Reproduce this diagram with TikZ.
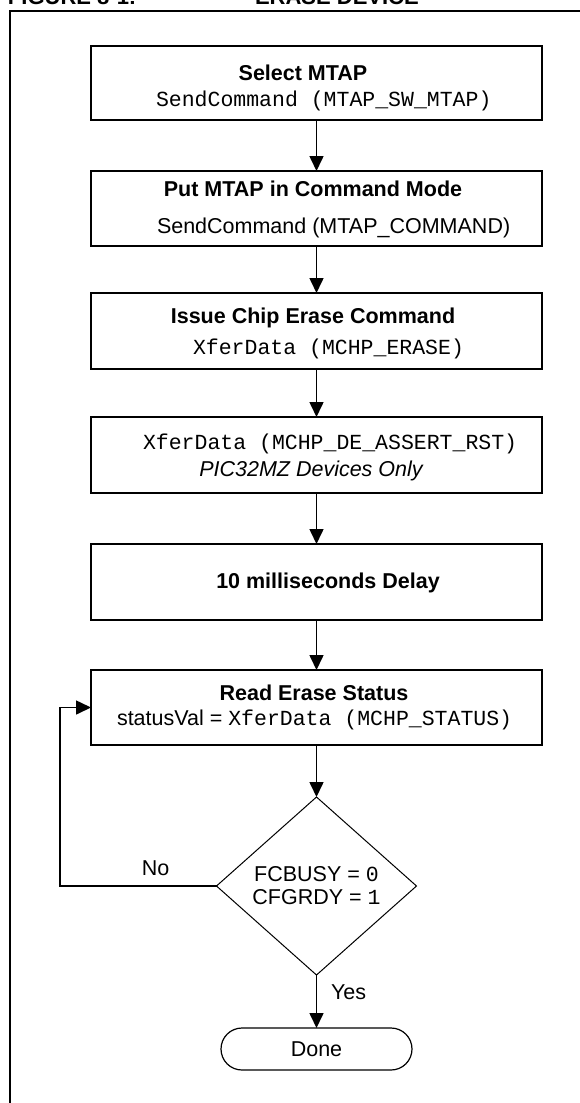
\documentclass[tikz,border=0pt]{standalone}
\usepackage{fontspec}
\setmainfont{Liberation Sans}
\setmonofont{Liberation Mono}
\usetikzlibrary{arrows.meta,shapes.geometric}
\begin{document}
\begin{tikzpicture}[x=1pt,y=-1pt,
  every node/.style={inner sep=0pt,outer sep=0pt},
  box/.style={draw,line width=1.8pt,minimum width=451pt},
  txt/.style={font=\fontsize{21.5}{23}\selectfont,anchor=base},
  btxt/.style={font=\fontsize{21.5}{23}\selectfont\bfseries,anchor=base},
  itxt/.style={font=\fontsize{21.5}{23}\selectfont\itshape,anchor=base},
  ttl/.style={font=\fontsize{22}{24}\selectfont\bfseries,anchor=base west},
  arr/.style={line width=1.6pt,-{Triangle[length=15pt,width=14pt]}},
]
\useasboundingbox (0,0) rectangle (580,1103);
\clip (0,0) rectangle (580,1103);
% outer frame
\draw[line width=2.4pt] (10,1120) -- (10,11) -- (600,11);
% cut title
\node[ttl] (fig) at (8,4) {FIGURE 8-1:};
\node[ttl] (title) at (255,4) {ERASE DEVICE};
% boxes
\node[box,minimum height=74pt] (b1) at (316.5,83) {};
\node[box,minimum height=75pt] (b2) at (316.5,208.5) {};
\node[box,minimum height=76pt] (b3) at (316.5,331) {};
\node[box,minimum height=76pt] (b4) at (316.5,455) {};
\node[box,minimum height=76pt] (b5) at (316.5,582) {};
\node[box,minimum height=75pt] (b6) at (316.5,707.5) {};
% texts
\node[btxt] (t1a) at (303,80) {Select MTAP};
\node[txt,anchor=base west] (t1b) at (156,106) {\ttfamily SendCommand (MTAP\_SW\_MTAP)};
\node[btxt] (t2a) at (313,196) {Put MTAP in Command Mode};
\node[txt,anchor=base west] (t2b) at (157,233) {SendCommand (MTAP\_COMMAND)};
\node[btxt] (t3a) at (313,323) {Issue Chip Erase Command};
\node[txt,anchor=base west] (t3b) at (193,354) {\ttfamily XferData (MCHP\_ERASE)};
\node[txt,anchor=base west] (t4a) at (143,449) {\ttfamily XferData (MCHP\_DE\_ASSERT\_RST)};
\node[itxt] (t4b) at (311,476) {PIC32MZ Devices Only};
\node[btxt] (t5) at (328,588) {10 milliseconds Delay};
\node[btxt] (t6a) at (314,700) {Read Erase Status};
\node[txt,anchor=base west] (t6b) at (117,725) {statusVal = \texttt{XferData (MCHP\_STATUS)}};
% decision
\node[draw,diamond,line width=1pt,minimum width=200pt,minimum height=178pt,
      align=center,font=\fontsize{21.5}{23}\selectfont] (dia) at (316.5,886)
      {FCBUSY = \texttt{0}\\CFGRDY = \texttt{1}};
\node[draw,rounded corners=21pt,line width=1.2pt,minimum width=191pt,minimum height=42pt,
      font=\fontsize{21.5}{23}\selectfont] (done) at (316.5,1049) {Done};
\node[txt] (no) at (155.5,875) {No};
\node[txt,anchor=base west] (yes) at (331,999) {Yes};
% connectors
\draw[arr] (b1.south) -- (b2.north);
\draw[arr] (b2.south) -- (b3.north);
\draw[arr] (b3.south) -- (b4.north);
\draw[arr] (b4.south) -- (b5.north);
\draw[arr] (b5.south) -- (b6.north);
\draw[arr] (b6.south) -- (dia.north);
\draw[arr] (dia.south) -- (done.north);
\draw[arr] (dia.west) -- ++(-156.5,0) |- (b6.west);
\end{tikzpicture}
\end{document}
